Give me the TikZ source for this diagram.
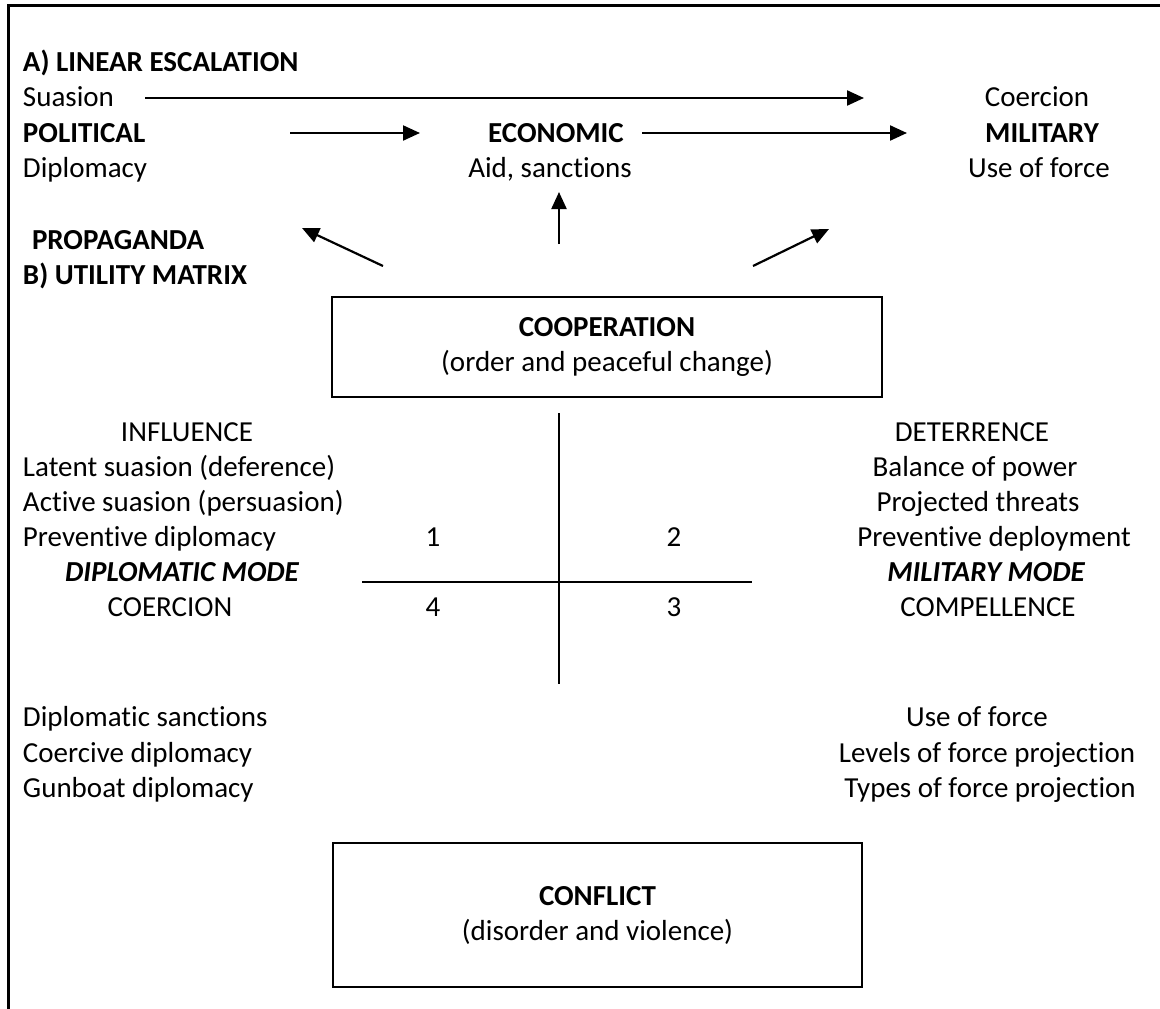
\documentclass[tikz,border=0pt]{standalone}
\usepackage{fontspec}
\setmainfont{Carlito}[Ligatures={NoCommon,NoContextual}]
\usetikzlibrary{arrows.meta}
\begin{document}
\begin{tikzpicture}[x=1pt,y=-1pt,
  every node/.style={inner sep=0pt,outer sep=0pt,font=\fontsize{29}{35}\selectfont},
  lt/.style={anchor=base west},
  ct/.style={anchor=base},
  bf/.style={font=\fontsize{29}{35}\selectfont\bfseries},
  bi/.style={font=\fontsize{29}{35}\selectfont\bfseries\itshape},
  arr/.style={line width=2.2pt,-{Triangle[length=17pt,width=15pt]}},
  ln/.style={line width=2.2pt},
  boxed/.style={draw,line width=2.5pt,align=center,anchor=center}]
\useasboundingbox (0,0) rectangle (1160,1009);
% frame
\coordinate (ftr) at (1160,5);
\coordinate (ftl) at (8,5);
\coordinate (fbl) at (8,1009);
\draw[line width=3pt] (ftr) -- (ftl) -- (fbl);
% top section
\node[lt,bf] (ttlA) at (23,71) {A) LINEAR ESCALATION};
\node[lt] (suas) at (23,106) {Suasion};
\node[lt,bf] (pol) at (23,142) {POLITICAL};
\node[lt] (dipl) at (23,177) {Diplomacy};
\node[ct,bf] (eco) at (556,142) {ECONOMIC};
\node[ct] (aid) at (550,177) {Aid, sanctions};
\node[ct] (coer) at (1037,106) {Coercion};
\node[ct,bf] (mil) at (1042,142) {MILITARY};
\node[ct] (uof) at (1039,177) {Use of force};
\node[lt,bf] (prop) at (32,249) {PROPAGANDA};
\node[lt,bf] (ttlB) at (23,284) {B) UTILITY MATRIX};
% arrows of escalation
\coordinate (s1) at (145,98); \coordinate (s2) at (864,98);
\coordinate (p1) at (290,133); \coordinate (p2) at (420,133);
\coordinate (e1) at (642,133); \coordinate (e2) at (907,133);
\draw[arr] (s1) -- (s2);
\draw[arr] (p1) -- (p2);
\draw[arr] (e1) -- (e2);
\coordinate (dl1) at (383,266); \coordinate (dl2) at (302,228);
\coordinate (u1) at (559,244); \coordinate (u2) at (559,192);
\coordinate (dr1) at (753,266); \coordinate (dr2) at (829,229);
\draw[arr] (dl1) -- (dl2);
\draw[arr] (u1) -- (u2);
\draw[arr] (dr1) -- (dr2);
% cooperation box
\node[boxed,minimum width=550pt,minimum height=100pt] (coop) at (607,347)
  {\textbf{COOPERATION}\\(order and peaceful change)};
% matrix
\coordinate (vt) at (559,413); \coordinate (vb) at (559,684);
\coordinate (hl) at (362,582); \coordinate (hr) at (752,582);
\draw[ln] (vt) -- (vb);
\draw[ln] (hl) -- (hr);
\node[ct] (n1) at (433,546) {1};
\node[ct] (n2) at (674,546) {2};
\node[ct] (n4) at (433,616) {4};
\node[ct] (n3) at (674,616) {3};
% left column
\node[ct] (infl) at (187,441) {INFLUENCE};
\node[lt] (lat) at (23,476) {Latent suasion (deference)};
\node[lt] (act) at (23,511) {Active suasion (persuasion)};
\node[lt] (prev) at (23,546) {Preventive diplomacy};
\node[ct,bi] (dmode) at (182,581) {DIPLOMATIC MODE};
\node[ct] (coerc) at (170,616) {COERCION};
\node[lt] (dsan) at (23,726) {Diplomatic sanctions};
\node[lt] (cdip) at (23,762) {Coercive diplomacy};
\node[lt] (gdip) at (23,797) {Gunboat diplomacy};
% right column
\node[ct] (deter) at (972,441) {DETERRENCE};
\node[ct] (bal) at (975,476) {Balance of power};
\node[ct] (proj) at (978,511) {Projected threats};
\node[ct] (pdep) at (994,546) {Preventive deployment};
\node[ct,bi] (mmode) at (986,581) {MILITARY MODE};
\node[ct] (comp) at (988,616) {COMPELLENCE};
\node[ct] (uof2) at (977,726) {Use of force};
\node[ct] (lev) at (987,762) {Levels of force projection};
\node[ct] (typ) at (990,797) {Types of force projection};
% conflict box
\node[boxed,minimum width=529pt,minimum height=144pt] (conf) at (597.5,915)
  {\textbf{CONFLICT}\\(disorder and violence)};
\end{tikzpicture}
\end{document}
